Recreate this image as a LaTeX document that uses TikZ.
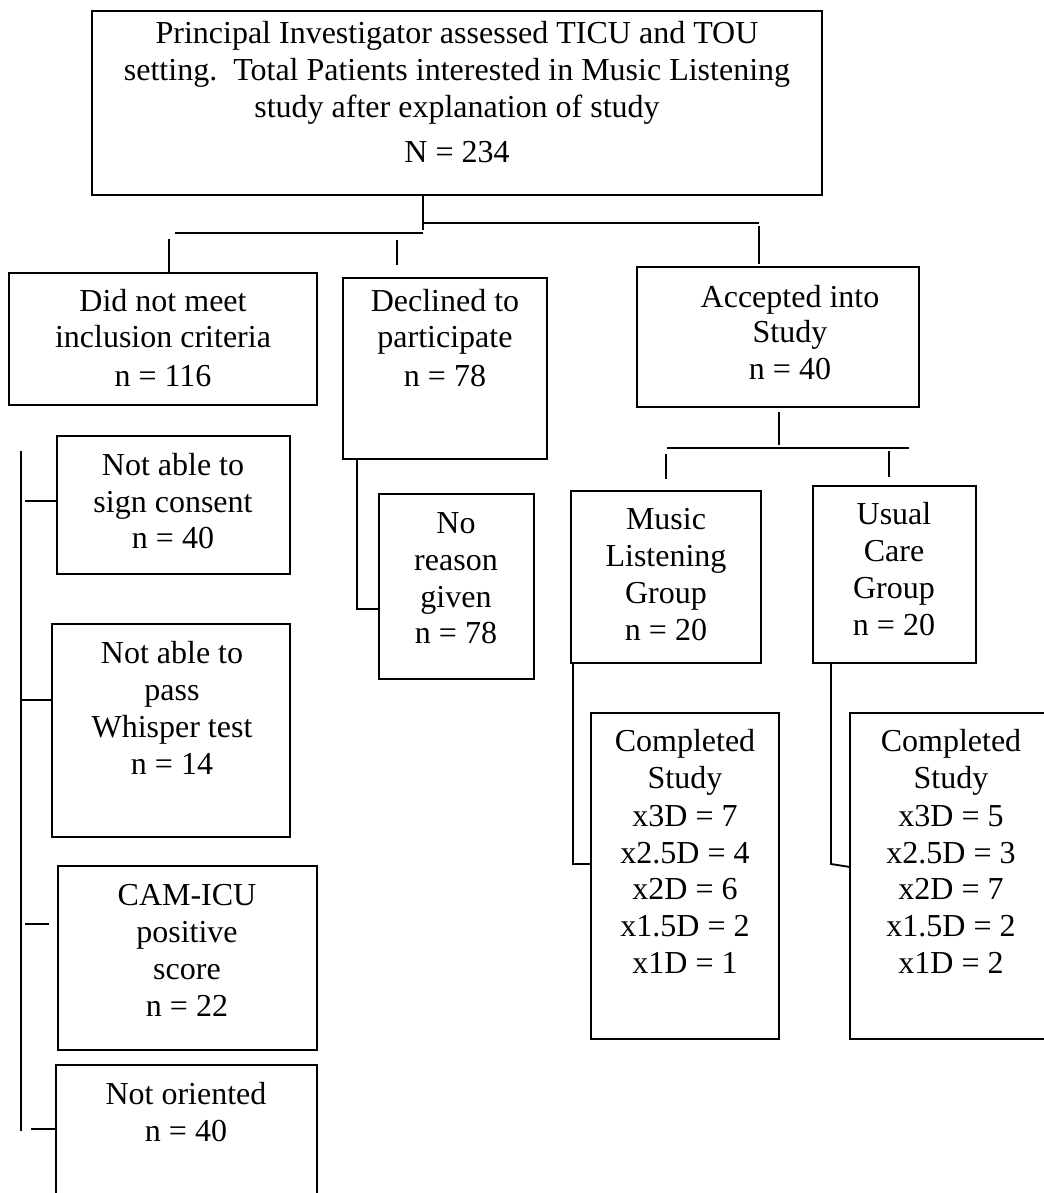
\documentclass[tikz,border=0pt]{standalone}
\usepackage{fontspec}
\setmainfont{Liberation Serif}
\tikzset{
  box/.style={draw, line width=1.4pt, inner sep=0pt},
  txt/.style={anchor=base, inner sep=0pt, font=\fontsize{24pt}{28pt}\selectfont},
  conn/.style={line width=1.4pt},
}
\newcommand\mkbox[5]{\node[box, minimum width={(#4-#2)*0.75pt}, minimum height={(#5-#3)*0.75pt}] (#1) at ({(#2+#4)/2},{(#3+#5)/2}) {};}
\newcommand\tl[4]{\node[txt] (#1) at (#2,#3) {#4};}
\begin{document}
\begin{tikzpicture}[x=0.75pt,y=-0.75pt]
\useasboundingbox (0,0) rectangle (1044,1193);
\clip (0,0) rectangle (1044,1193);
% boxes
\mkbox{top}{92}{11}{822}{195}
\mkbox{dnm}{9}{273}{317}{405}
\mkbox{dec}{343}{278}{547}{459}
\mkbox{acc}{637}{267}{919}{407}
\mkbox{sign}{57}{436}{290}{574}
\mkbox{whis}{52}{624}{290}{837}
\mkbox{cam}{58}{866}{317}{1050}
\mkbox{orient}{56}{1065}{317}{1215}
\mkbox{noreason}{379}{494}{534}{679}
\mkbox{music}{571}{491}{761}{663}
\mkbox{usual}{813}{486}{976}{663}
\mkbox{compA}{591}{713}{779}{1039}
\mkbox{compB}{850}{713}{1052}{1039}
% texts
\tl{t1}{457}{43}{Principal Investigator assessed TICU and TOU}
\tl{t2}{457}{80}{setting.\ \ Total Patients interested in Music Listening}
\tl{t3}{457}{117}{study after explanation of study}
\tl{t4}{457}{162}{N = 234}
\tl{d1}{163}{311}{Did not meet}
\tl{d2}{163}{347}{inclusion criteria}
\tl{d3}{163}{386}{n = 116}
\tl{e1}{445}{311}{Declined to}
\tl{e2}{445}{347}{participate}
\tl{e3}{445}{386}{n = 78}
\tl{a1}{790}{307}{Accepted into}
\tl{a2}{790}{342}{Study}
\tl{a3}{790}{379}{n = 40}
\tl{s1}{173}{475}{Not able to}
\tl{s2}{173}{512}{sign consent}
\tl{s3}{173}{548}{n = 40}
\tl{w1}{172}{663}{Not able to}
\tl{w2}{172}{700}{pass}
\tl{w3}{172}{737}{Whisper test}
\tl{w4}{172}{774}{n = 14}
\tl{c1}{187}{905}{CAM-ICU}
\tl{c2}{187}{942}{positive}
\tl{c3}{187}{979}{score}
\tl{c4}{187}{1016}{n = 22}
\tl{o1}{186}{1104}{Not oriented}
\tl{o2}{186}{1141}{n = 40}
\tl{r1}{456}{533}{No}
\tl{r2}{456}{570}{reason}
\tl{r3}{456}{607}{given}
\tl{r4}{456}{643}{n = 78}
\tl{m1}{666}{529}{Music}
\tl{m2}{666}{566}{Listening}
\tl{m3}{666}{603}{Group}
\tl{m4}{666}{640}{n = 20}
\tl{u1}{894}{524}{Usual}
\tl{u2}{894}{561}{Care}
\tl{u3}{894}{598}{Group}
\tl{u4}{894}{635}{n = 20}
\tl{p1}{685}{751}{Completed}
\tl{p2}{685}{788}{Study}
\tl{p3}{685}{826}{x3D = 7}
\tl{p4}{685}{863}{x2.5D = 4}
\tl{p5}{685}{899}{x2D = 6}
\tl{p6}{685}{936}{x1.5D = 2}
\tl{p7}{685}{973}{x1D = 1}
\tl{q1}{951}{751}{Completed}
\tl{q2}{951}{788}{Study}
\tl{q3}{951}{826}{x3D = 5}
\tl{q4}{951}{863}{x2.5D = 3}
\tl{q5}{951}{899}{x2D = 7}
\tl{q6}{951}{936}{x1.5D = 2}
\tl{q7}{951}{973}{x1D = 2}
% connectors
\coordinate (j0) at (423,230);
\draw[conn] (top.south -| j0) -- (j0);
\coordinate (hr1) at (423,223); \coordinate (hr2) at (759,223);
\draw[conn] (hr1) -- (hr2);
\coordinate (hl1) at (175,233); \coordinate (hl2) at (423,233);
\draw[conn] (hl1) -- (hl2);
\coordinate (vd) at (169,239);
\draw[conn] (vd) -- (vd |- dnm.north);
\coordinate (ve1) at (397,240); \coordinate (ve2) at (397,265);
\draw[conn] (ve1) -- (ve2);
\coordinate (va1) at (759,226); \coordinate (va2) at (759,264);
\draw[conn] (va1) -- (va2);
\coordinate (vb1) at (779,412); \coordinate (vb2) at (779,445);
\draw[conn] (vb1) -- (vb2);
\coordinate (hb1) at (667,448); \coordinate (hb2) at (909,448);
\draw[conn] (hb1) -- (hb2);
\coordinate (vm1) at (666,454); \coordinate (vm2) at (666,479);
\draw[conn] (vm1) -- (vm2);
\coordinate (vu1) at (889,451); \coordinate (vu2) at (889,477);
\draw[conn] (vu1) -- (vu2);
% left column
\coordinate (L1) at (21,451); \coordinate (L2) at (21,1131);
\draw[conn] (L1) -- (L2);
\coordinate (ts) at (25,501);
\draw[conn] (ts) -- (ts -| sign.west);
\coordinate (tw) at (21,700);
\draw[conn] (tw) -- (tw -| whis.west);
\coordinate (tc1) at (25,924); \coordinate (tc2) at (49,924);
\draw[conn] (tc1) -- (tc2);
\coordinate (to) at (31,1129);
\draw[conn] (to) -- (to -| orient.west);
% declined branch
\coordinate (dk) at (357,609);
\draw[conn] (dk |- dec.south) -- (dk) -- (dk -| noreason.west);
% music branch
\coordinate (mk) at (573,864);
\draw[conn] (mk |- music.south) -- (mk) -- (mk -| compA.west);
% usual branch
\coordinate (uk) at (831,864);
\draw[conn] (uk |- usual.south) -- (uk) -- (850,867);
\end{tikzpicture}
\end{document}
